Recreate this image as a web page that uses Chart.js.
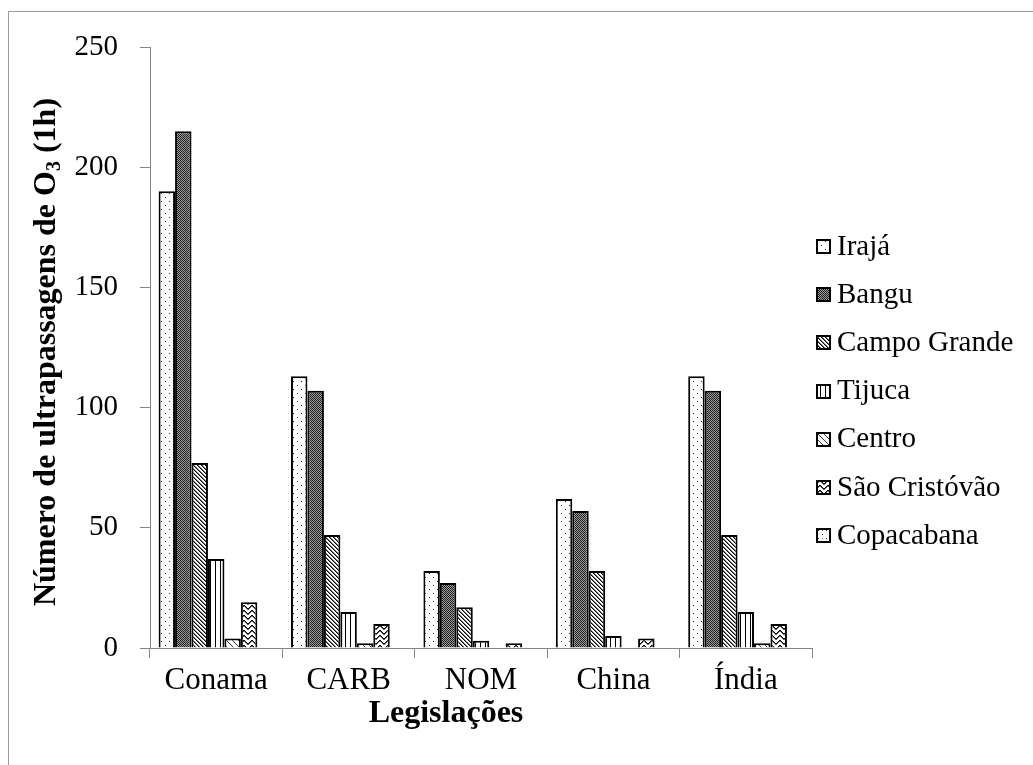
<!DOCTYPE html>
<html>
<head>
<meta charset="utf-8">
<script src="https://cdn.jsdelivr.net/npm/chart.js@4"></script>
<style>
  html, body { margin: 0; padding: 0; background: #fff; }
  #wrap { width: 1033px; height: 765px; }
</style>
</head>
<body>
<div id="wrap"><canvas id="grafico" width="1033" height="765"></canvas></div>
<script>
// ultrapassagens de O3 (1h) por legislação e estação
const legislacoes = ["Conama", "CARB", "NOM", "China", "Índia"];
const estacoes = ["Irajá", "Bangu", "Campo Grande", "Tijuca", "Centro", "São Cristóvão", "Copacabana"];
const iraja = [190, 113, 32, 62, 113];
const bangu = [215, 107, 27, 57, 107];
const campoGrande = [77, 47, 17, 32, 47];
const tijuca = [37, 15, 3, 5, 15];
const centro = [4, 2, 0, 0, 2];
const saoCristovao = [19, 10, 2, 4, 10];
const copacabana = [0, 0, 0, 0, 0];
const yTicks = [0, 50, 100, 150, 200, 250];

const serie = [iraja, bangu, campoGrande, tijuca, centro, saoCristovao, copacabana];
const fonte = '"Liberation Serif", "Times New Roman", serif';
const cinza = "#868686";

const canvas = document.getElementById("grafico");
const ctx = canvas.getContext("2d");

// hachuras em preto e branco
function padrao(w, h, desenhar) {
    const c = document.createElement("canvas");
    c.width = w;
    c.height = h;
    const g = c.getContext("2d");
    g.fillStyle = "#fff";
    g.fillRect(0, 0, w, h);
    desenhar(g);
    return ctx.createPattern(c, "repeat");
}
function px(g, x, y, cor) {
    g.fillStyle = cor || "#000";
    g.fillRect(x, y, 1, 1);
}

const padroes = [
    // pontilhado
    padrao(8, 8, function (g) {
        px(g, 1, 1, "#222");
        px(g, 5, 5, "#222");
    }),
    // xadrez escuro
    padrao(2, 2, function (g) {
        px(g, 0, 0, "#222");
        px(g, 1, 1, "#222");
        px(g, 1, 0, "#999");
        px(g, 0, 1, "#999");
    }),
    // diagonal larga
    padrao(4, 4, function (g) {
        for (let i = 0; i < 4; i++) {
            px(g, i, i, "#000");
            px(g, (i + 1) % 4, i, "#777");
        }
    }),
    // vertical
    padrao(5, 1, function (g) {
        px(g, 0, 0, "#000");
    }),
    // diagonal clara
    padrao(6, 6, function (g) {
        for (let i = 0; i < 6; i++) px(g, i, i, "#333");
    }),
    // zigue-zague
    padrao(8, 5, function (g) {
        const ys = [3, 2, 1, 0, 0, 1, 2, 3];
        for (let x = 0; x < 8; x++) {
            px(g, x, ys[x], "#000");
            px(g, x, ys[x] + 1, "#666");
        }
    }),
    // pontos esparsos
    padrao(8, 8, function (g) {
        px(g, 2, 2, "#222");
        px(g, 6, 6, "#222");
        px(g, 6, 2, "#888");
    }),
];

const extras = {
    id: "extras",
    beforeDraw(chart) {
        const c = chart.ctx;
        c.save();
        c.fillStyle = "#fff";
        c.fillRect(0, 0, chart.width, chart.height);
        c.strokeStyle = "#9a9a9a";
        c.lineWidth = 1;
        c.strokeRect(8.5, 11.5, 1200, 1000);
        c.restore();
    },
    afterDraw(chart) {
        const c = chart.ctx;
        c.save();
        c.fillStyle = "#000";

        // título do eixo y, com O subscrito 3
        c.translate(47, 352);
        c.rotate(-Math.PI / 2);
        const fGrande = "bold 32px " + fonte;
        const fSub = "bold 20px " + fonte;
        const partes = [
            { t: "Número de ultrapassagens de O", f: fGrande, dy: 0 },
            { t: "3", f: fSub, dy: 8 },
            { t: " (1h)", f: fGrande, dy: 0 },
        ];
        let total = 0;
        partes.forEach(function (p) {
            c.font = p.f;
            p.w = c.measureText(p.t).width;
            total += p.w;
        });
        let x = -total / 2;
        c.textBaseline = "middle";
        c.textAlign = "left";
        partes.forEach(function (p) {
            c.font = p.f;
            c.fillText(p.t, x, p.dy);
            x += p.w;
        });
        c.setTransform(1, 0, 0, 1, 0, 0);

        // título do eixo x
        c.font = "bold 32px " + fonte;
        c.textAlign = "center";
        c.textBaseline = "middle";
        c.fillText("Legislações", 446, 714);

        // legenda
        c.font = "29px " + fonte;
        c.textAlign = "left";
        chart.data.datasets.forEach(function (ds, i) {
            const y = 246 + i * 48.2;
            c.fillStyle = ds.backgroundColor;
            c.fillRect(817, Math.round(y) - 6, 13, 13);
            c.strokeStyle = "#000";
            c.lineWidth = 2;
            c.strokeRect(817, Math.round(y) - 6, 13, 13);
            c.fillStyle = "#000";
            c.fillText(ds.label, 837, y + 1);
        });
        c.restore();
    },
};

new Chart(ctx, {
    type: "bar",
    data: {
        labels: legislacoes,
        datasets: estacoes.map(function (nome, i) {
            return {
                label: nome,
                data: serie[i],
                backgroundColor: padroes[i],
                borderColor: "#000",
                borderWidth: 2,
                categoryPercentage: 0.87,
                barPercentage: 1.0,
            };
        }),
    },
    options: {
        responsive: false,
        animation: false,
        devicePixelRatio: 1,
        layout: {
            padding: { top: 47, right: 221, left: 0, bottom: 0 },
        },
        plugins: {
            legend: { display: false },
            tooltip: { enabled: false },
        },
        scales: {
            x: {
                afterFit: function (scale) {
                    scale.height = 117;
                },
                grid: {
                    display: true,
                    drawOnChartArea: false,
                    drawTicks: true,
                    tickLength: 10,
                    color: cinza,
                    offset: true,
                },
                border: { color: cinza, width: 1 },
                ticks: {
                    color: "#000",
                    padding: 4,
                    font: { family: fonte, size: 31 },
                },
            },
            y: {
                min: 0,
                max: 250,
                afterFit: function (scale) {
                    scale.width = 150;
                },
                afterBuildTicks: function (scale) {
                    scale.ticks = yTicks.map(function (v) {
                        return { value: v };
                    });
                },
                grid: {
                    display: true,
                    drawOnChartArea: false,
                    drawTicks: true,
                    tickLength: 10,
                    color: cinza,
                },
                border: { color: cinza, width: 1 },
                ticks: {
                    color: "#000",
                    padding: 22,
                    font: { family: fonte, size: 29 },
                },
            },
        },
    },
    plugins: [extras],
});
</script>
</body>
</html>
